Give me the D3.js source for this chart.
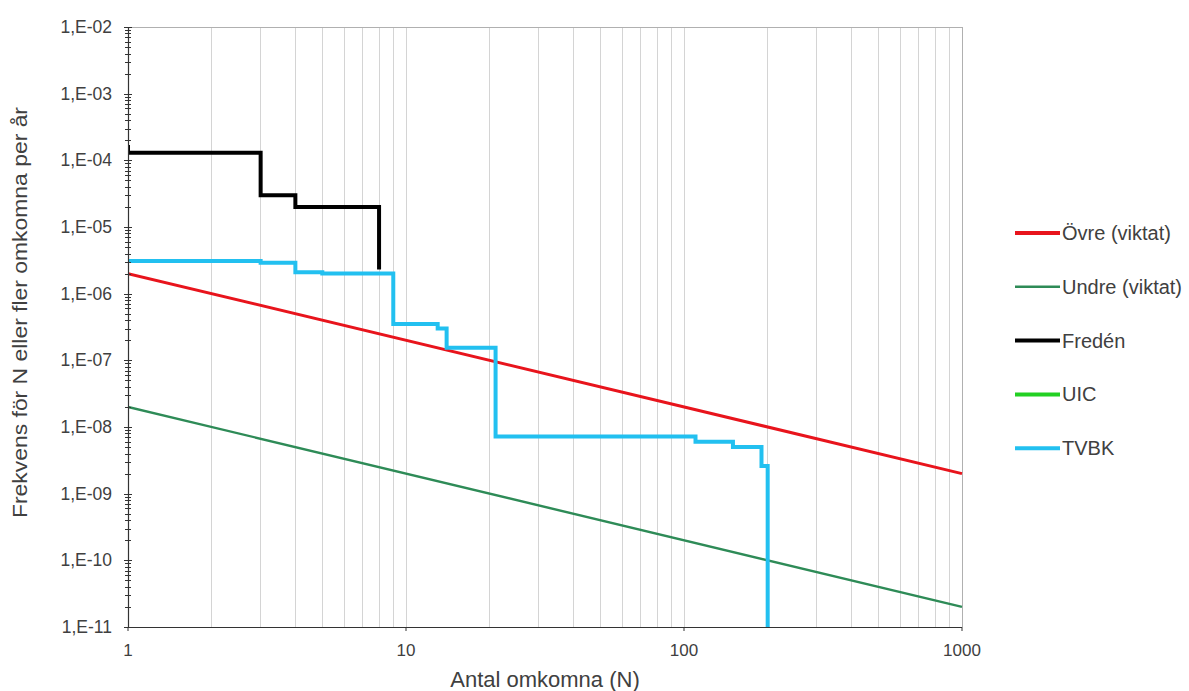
<!DOCTYPE html>
<html><head><meta charset="utf-8">
<script src="https://cdn.jsdelivr.net/npm/d3@7"></script>
<style>
body{margin:0;background:#fff;}
text{font-family:"Liberation Sans",Arial,sans-serif;}
</style></head>
<body><svg id="c" width="1189" height="691"></svg>
<script>
// ---- data ----
const xTicks = [1, 10, 100, 1000];
const yTicks = [1e-2, 1e-3, 1e-4, 1e-5, 1e-6, 1e-7, 1e-8, 1e-9, 1e-10, 1e-11];
const yTickLabels = ["1,E-02","1,E-03","1,E-04","1,E-05","1,E-06","1,E-07","1,E-08","1,E-09","1,E-10","1,E-11"];
const seriesNames = ["Övre (viktat)", "Undre (viktat)", "Fredén", "UIC", "TVBK"];
const ovre = [[1, 2e-6], [1000, 2e-9]];
const undre = [[1, 2e-8], [1000, 2e-11]];
const freden = [[1, 1.7e-4], [1, 1.3e-4], [3, 3.0e-5], [4, 2.0e-5], [8, 2.3e-6]];
const uic = [];
const tvbk = [[1, 3.1e-6], [3, 2.9e-6], [4, 2.1e-6], [5, 2.0e-6], [9, 3.5e-7], [13, 3.0e-7], [14, 1.55e-7],
  [21, 7.2e-9], [110, 6.0e-9], [150, 5.0e-9], [190, 2.6e-9], [200, 1e-11]];

// ---- layout ----
const svg = d3.select("#c");
const L = 128, R = 962, T = 27, B = 627;
const x = d3.scaleLog().domain([1, 1000]).range([L, R]);
const y = d3.scaleLog().domain([1e-11, 1e-2]).range([B, T]);

const series = [
  {name: seriesNames[0], data: ovre, color: "#e8141c", w: 3, lw: 4, step: false},
  {name: seriesNames[1], data: undre, color: "#2e8b57", w: 2.4, lw: 2.6, step: false},
  {name: seriesNames[2], data: freden, color: "#000000", w: 4, lw: 4, step: true},
  {name: seriesNames[3], data: uic, color: "#22d022", w: 3, lw: 4, step: true},
  {name: seriesNames[4], data: tvbk, color: "#22c0f0", w: 4, lw: 4, step: true}
];

// minor vertical gridlines
const minorX = [];
for (let d = 1; d < 1000; d *= 10) for (let k = 2; k <= 10; k++) minorX.push(d * k);
svg.append("g").selectAll("line").data(minorX).join("line")
  .attr("x1", d => x(d)).attr("x2", d => x(d)).attr("y1", T).attr("y2", B)
  .attr("stroke", "#d4d4d4").attr("stroke-width", 1).attr("shape-rendering", "crispEdges");
// top/right border
svg.append("line").attr("x1", L).attr("x2", R).attr("y1", T).attr("y2", T)
  .attr("stroke", "#b0b0b0").attr("shape-rendering", "crispEdges");
svg.append("line").attr("x1", R).attr("x2", R).attr("y1", T).attr("y2", B)
  .attr("stroke", "#b0b0b0").attr("shape-rendering", "crispEdges");

// clip
svg.append("clipPath").attr("id", "clip").append("rect")
  .attr("x", L).attr("y", T - 2).attr("width", R - L + 2).attr("height", B - T + 5);

const g = svg.append("g").attr("clip-path", "url(#clip)");
series.forEach(s => {
  if (!s.data.length) return;
  const line = d3.line().x(d => x(d[0])).y(d => y(d[1])).curve(s.step ? d3.curveStepAfter : d3.curveLinear);
  g.append("path").datum(s.data).attr("d", line).attr("fill", "none")
    .attr("stroke", s.color).attr("stroke-width", s.w).attr("stroke-linejoin", "miter");
});

// y axis ticks
const minorY = [];
for (let e = -11; e < -2; e++) for (let k = 2; k <= 9; k++) minorY.push(k * Math.pow(10, e));
const ax = svg.append("g");
ax.selectAll("line.mi").data(minorY).join("line").attr("class", "mi")
  .attr("x1", L - 3).attr("x2", L + 3).attr("y1", d => Math.round(y(d)) + 0.5).attr("y2", d => Math.round(y(d)) + 0.5)
  .attr("stroke", "#333").attr("stroke-width", 1);
ax.selectAll("line.ma").data(yTicks).join("line").attr("class", "ma")
  .attr("x1", L - 4).attr("x2", L + 4).attr("y1", d => Math.round(y(d)) + 0.5).attr("y2", d => Math.round(y(d)) + 0.5)
  .attr("stroke", "#333").attr("stroke-width", 1);
ax.append("line").attr("x1", L + 0.5).attr("x2", L + 0.5).attr("y1", T).attr("y2", B)
  .attr("stroke", "#333").attr("stroke-width", 1.2);
ax.append("line").attr("x1", L).attr("x2", R).attr("y1", B + 0.5).attr("y2", B + 0.5)
  .attr("stroke", "#333").attr("stroke-width", 1.2);
ax.selectAll("line.xt").data(xTicks).join("line").attr("class", "xt")
  .attr("x1", d => x(d)).attr("x2", d => x(d)).attr("y1", B).attr("y2", B + 4)
  .attr("stroke", "#333");

ax.selectAll("text.yl").data(yTicks).join("text").attr("class", "yl")
  .attr("x", 112).attr("y", d => y(d)).attr("dy", "0.35em").attr("text-anchor", "end")
  .attr("font-size", 17.5).attr("fill", "#404040").text((d, i) => yTickLabels[i]);
ax.selectAll("text.xl").data(xTicks).join("text").attr("class", "xl")
  .attr("x", d => x(d)).attr("y", 656).attr("text-anchor", "middle")
  .attr("font-size", 17).attr("fill", "#404040").text(d => String(d));

svg.append("text").attr("x", 545).attr("y", 687).attr("text-anchor", "middle")
  .attr("font-size", 22).attr("fill", "#404040").text("Antal omkomna (N)");
svg.append("text").attr("transform", "translate(27,312.5) rotate(-90)")
  .attr("text-anchor", "middle").attr("font-size", 20).attr("fill", "#404040")
  .attr("textLength", 411).attr("lengthAdjust", "spacingAndGlyphs")
  .text("Frekvens för N eller fler omkomna per år");

// legend
const lg = svg.append("g");
series.forEach((s, i) => {
  const yy = 233 + i * 53.8;
  lg.append("line").attr("x1", 1015).attr("x2", 1060).attr("y1", yy).attr("y2", yy)
    .attr("stroke", s.color).attr("stroke-width", s.lw);
  lg.append("text").attr("x", 1062).attr("y", yy).attr("dy", "0.35em")
    .attr("font-size", 20).attr("fill", "#404040").text(s.name);
});
</script></body></html>
